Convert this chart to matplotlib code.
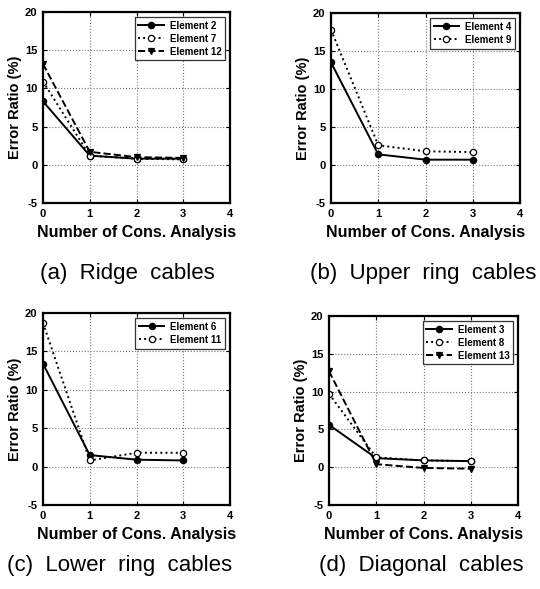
import matplotlib
matplotlib.use("Agg")
import matplotlib.pyplot as plt

# x positions: number of consecutive analyses
steps = [0, 1, 2, 3]

# (a) Ridge cables
ridge_el2 = [8.3, 1.2, 0.8, 0.8]
ridge_el7 = [10.9, 1.2, 0.8, 0.7]
ridge_el12 = [13.2, 1.7, 1.0, 0.9]

# (b) Upper ring cables
upper_el4 = [13.5, 1.4, 0.7, 0.7]
upper_el9 = [17.8, 2.6, 1.8, 1.7]

# (c) Lower ring cables
lower_el6 = [13.4, 1.5, 0.9, 0.8]
lower_el11 = [18.7, 0.8, 1.8, 1.8]

# (d) Diagonal cables
diag_el3 = [5.6, 1.2, 0.9, 0.8]
diag_el8 = [9.7, 1.3, 0.9, 0.8]
diag_el13 = [12.7, 0.4, -0.1, -0.2]

captions = ["(a)  Ridge  cables", "(b)  Upper  ring  cables",
            "(c)  Lower  ring  cables", "(d)  Diagonal  cables"]

STYLES = {
    "solid": dict(linestyle="-", marker="o", markerfacecolor="black"),
    "dotted": dict(linestyle=":", marker="o", markerfacecolor="white"),
    "dashed": dict(linestyle="--", marker="v", markerfacecolor="black"),
}

# axes box in pixels (left, right, top, bottom) and caption centre
panels = [
    ((43, 230, 12, 203), (127, 273), [("Element 2", ridge_el2, "solid"),
                                      ("Element 7", ridge_el7, "dotted"),
                                      ("Element 12", ridge_el12, "dashed")]),
    ((331, 520, 13, 203), (423, 273), [("Element 4", upper_el4, "solid"),
                                       ("Element 9", upper_el9, "dotted")]),
    ((43, 230, 313, 505), (120, 565), [("Element 6", lower_el6, "solid"),
                                       ("Element 11", lower_el11, "dotted")]),
    ((329, 518, 316, 505), (421, 565), [("Element 3", diag_el3, "solid"),
                                        ("Element 8", diag_el8, "dotted"),
                                        ("Element 13", diag_el13, "dashed")]),
]

W, H = 540, 589
plt.rcParams["font.family"] = ["Liberation Sans", "DejaVu Sans"]
plt.rcParams["axes.unicode_minus"] = False
fig = plt.figure(figsize=(W / 100, H / 100), dpi=100)
fig.patch.set_facecolor("white")

for i, ((l, r, t, b), (cx, cy), series) in enumerate(panels):
    ax = fig.add_axes([l / W, 1 - b / H, (r - l) / W, (b - t) / H])
    for name, vals, style in series:
        ax.plot(steps, vals, color="black", linewidth=1.4, markersize=4.5,
                markeredgecolor="black", markeredgewidth=0.9, label=name,
                **STYLES[style])
    ax.set_xlim(0, 4)
    ax.set_ylim(-5, 20)
    ax.set_xticks([0, 1, 2, 3, 4])
    ax.set_yticks([-5, 0, 5, 10, 15, 20])
    ax.grid(True, linestyle=":", color="#777777", linewidth=0.8)
    ax.tick_params(direction="in", top=True, right=True, length=3,
                   labelsize=8, pad=4)
    for lab in ax.get_xticklabels() + ax.get_yticklabels():
        lab.set_fontweight("bold")
    for sp in ax.spines.values():
        sp.set_linewidth(1.6)
    ax.set_xlabel("Number of Cons. Analysis", fontsize=11.5, fontweight="heavy",
                  labelpad=5)
    ax.set_ylabel("Error Ratio (%)", fontsize=10.5, fontweight="heavy", labelpad=2)
    leg = ax.legend(loc="upper right", frameon=True, fancybox=False,
                    edgecolor="black", handlelength=2.6, borderpad=0.4,
                    labelspacing=0.3, handletextpad=0.6,
                    prop={"size": 7, "weight": "bold"})
    leg.get_frame().set_linewidth(0.9)
    fig.text(cx / W, 1 - cy / H, captions[i], ha="center", va="center",
             fontsize=16, family=["Liberation Sans", "DejaVu Sans"])

fig.savefig("out.png", dpi=100, facecolor="white")
